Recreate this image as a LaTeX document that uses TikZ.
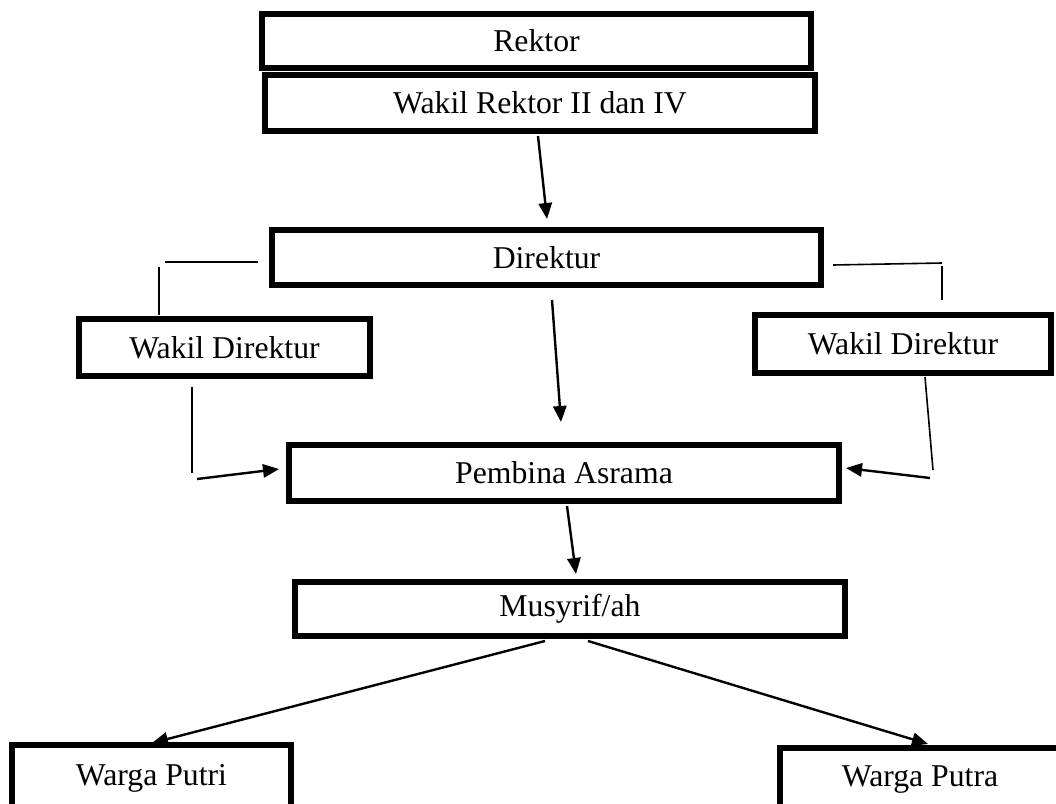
\documentclass[tikz,border=0pt]{standalone}
\usepackage{fontspec}
\setmainfont{Liberation Serif}
\usetikzlibrary{arrows.meta}
\tikzset{
  box/.style={draw=black, line width=3.8pt, inner sep=0pt, font=\fontsize{23.8}{28}\selectfont},
  conn/.style={draw=black, line width=1.8pt, -{Triangle[length=12pt,width=10pt]}},
  side/.style={draw=black, line width=1.2pt},
  sidearrow/.style={draw=black, line width=1.8pt, -{Triangle[length=12pt,width=10pt]}}
}
\begin{document}
\begin{tikzpicture}[x=0.75pt,y=-0.75pt]
\clip (0,0) rectangle (1056,803);
\fill[white] (0,0) rectangle (1056,803);
% boxes
\node[box, minimum width=411.75pt, minimum height=40.5pt] (rektor) at (536.5,41) {Rektor};
\node[box, minimum width=412.5pt, minimum height=42pt] (wr) at (540,103) {Wakil Rektor II dan IV};
\node[box, minimum width=411.75pt, minimum height=41.25pt] (dir) at (546.5,257.5) {Direktur};
\node[box, minimum width=218.25pt, minimum height=42.75pt] (wdl) at (224.5,347.5) {Wakil Direktur};
\node[box, minimum width=222pt, minimum height=43.5pt] (wdr) at (903,344) {Wakil Direktur};
\node[box, minimum width=412.5pt, minimum height=42pt] (pemb) at (564,473) {Pembina Asrama};
\node[box, minimum width=412.5pt, minimum height=40.5pt] (mus) at (570,609) {Musyrif/ah};
\node[box, minimum width=209.25pt, minimum height=49.5pt] (wpi) at (151.5,778) {Warga Putri};
\node[box, minimum width=210pt, minimum height=48pt] (wpa) at (920,780) {Warga Putra};
% connector end points
\coordinate (a1s) at (538,136); \coordinate (a1e) at (547,219);
\coordinate (a2s) at (552,300); \coordinate (a2e) at (561,422);
\coordinate (a3s) at (567,506); \coordinate (a3e) at (576,574);
\coordinate (a4s) at (545,641); \coordinate (a4e) at (152,743);
\coordinate (a5s) at (588,641); \coordinate (a5e) at (928,744);
\coordinate (lt1) at (258,262); \coordinate (lt2) at (165,262);
\coordinate (lt3) at (159,267); \coordinate (lt4) at (159,315);
\coordinate (rt1) at (833,265); \coordinate (rt2) at (942,263);
\coordinate (rt3) at (942,266); \coordinate (rt4) at (942,300);
\coordinate (lb1) at (192,387); \coordinate (lb2) at (192,473);
\coordinate (lb3) at (197,479); \coordinate (lb4) at (279,469);
\coordinate (rb1) at (925,377); \coordinate (rb2) at (933,470);
\coordinate (rb3) at (930,478); \coordinate (rb4) at (846,468);
% arrows
\draw[conn] (a1s) -- (a1e);
\draw[conn] (a2s) -- (a2e);
\draw[conn] (a3s) -- (a3e);
\draw[conn] (a4s) -- (a4e);
\draw[conn] (a5s) -- (a5e);
% side connectors
\draw[side] (lt1) -- (lt2);
\draw[side] (lt3) -- (lt4);
\draw[side] (rt1) -- (rt2);
\draw[side] (rt3) -- (rt4);
\draw[side] (lb1) -- (lb2);
\draw[sidearrow] (lb3) -- (lb4);
\draw[side] (rb1) -- (rb2);
\draw[sidearrow] (rb3) -- (rb4);
\end{tikzpicture}
\end{document}
